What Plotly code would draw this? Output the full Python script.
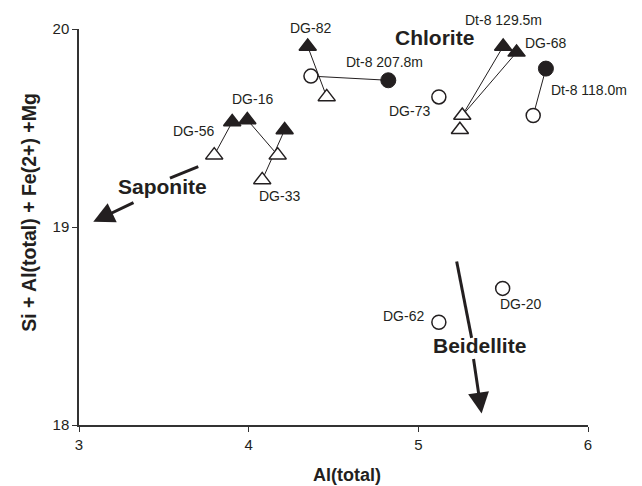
import plotly.graph_objects as go

# ---- data ----
filled_tri_x = [3.903, 3.992, 4.212, 4.348, 5.500, 5.579]
filled_tri_y = [19.530, 19.541, 19.490, 19.912, 19.912, 19.882]

open_tri_x = [3.797, 4.171, 4.080, 4.460, 5.259, 5.245]
open_tri_y = [19.363, 19.363, 19.238, 19.657, 19.563, 19.491]

filled_circ_x = [4.823, 5.752]
filled_circ_y = [19.741, 19.800]

open_circ_x = [4.367, 5.121, 5.677, 5.497, 5.121]
open_circ_y = [19.762, 19.657, 19.563, 18.690, 18.519]

# connecting segments (start x, start y, end x, end y)
seg_x0 = [3.797, 3.992, 4.212, 4.348, 4.367, 5.500, 5.579, 5.752]
seg_y0 = [19.363, 19.541, 19.490, 19.912, 19.762, 19.912, 19.882, 19.800]
seg_x1 = [3.903, 4.171, 4.080, 4.460, 4.823, 5.259, 5.259, 5.677]
seg_y1 = [19.530, 19.363, 19.238, 19.657, 19.741, 19.563, 19.563, 19.563]

# sample labels (centre positions)
label_text = ["DG-82", "DG-16", "DG-56", "DG-33", "Dt-8 207.8m",
              "DG-68", "DG-73", "DG-20", "DG-62"]
label_x = [4.367, 4.024, 3.674, 4.179, 4.799, 5.752, 4.950, 5.603, 4.911]
label_y = [19.990, 19.629, 19.471, 19.142, 19.817, 19.912, 19.571, 18.594, 18.535]

# labels that sit on/over the plot frame (left edge x, centre y)
edge_label_text = ["Dt-8 129.5m", "Dt-8 118.0m"]
edge_label_x = [5.265, 5.770]
edge_label_y = [20.028, 19.679]

# trend arrows: tail -> gap start, gap end -> tip (gap holds the name)
trend_name = ["Saponite", "Beidellite"]
trend_tail_x = [3.703, 5.226]
trend_tail_y = [19.305, 18.826]
trend_gap0_x = [3.536, 5.314]
trend_gap0_y = [19.247, 18.440]
trend_gap1_x = [3.330, 5.324]
trend_gap1_y = [19.127, 18.341]
trend_tip_x = [3.084, 5.373]
trend_tip_y = [19.026, 18.058]
trend_label_x = [3.493, 5.363]
trend_label_y = [19.186, 18.382]

region_name = ["Chlorite"]
region_x = [5.094]
region_y = [19.937]

x_ticks = [3, 4, 5, 6]
y_ticks = [18, 19, 20]
x_range = [3, 6]
y_range = [18, 20]
x_title = "Al(total)"
y_title = "Si + Al(total) + Fe(2+) +Mg"

FONT = "Liberation Sans, Arial, sans-serif"
INK = "#231f20"

fig = go.Figure()

# segments
for x0, y0, x1, y1 in zip(seg_x0, seg_y0, seg_x1, seg_y1):
    fig.add_trace(go.Scatter(x=[x0, x1], y=[y0, y1], mode="lines",
                             line=dict(color=INK, width=1),
                             showlegend=False, hoverinfo="skip", cliponaxis=False))

# arrow shafts (tail part)
for x0, y0, x1, y1 in zip(trend_tail_x, trend_tail_y, trend_gap0_x, trend_gap0_y):
    fig.add_trace(go.Scatter(x=[x0, x1], y=[y0, y1], mode="lines",
                             line=dict(color=INK, width=3),
                             showlegend=False, hoverinfo="skip", cliponaxis=False))

# markers
fig.add_trace(go.Scatter(x=open_tri_x, y=open_tri_y, mode="markers",
                         marker=dict(symbol="triangle-up", size=15, color="white",
                                     line=dict(color=INK, width=1.5)),
                         showlegend=False, cliponaxis=False))
fig.add_trace(go.Scatter(x=filled_tri_x, y=filled_tri_y, mode="markers",
                         marker=dict(symbol="triangle-up", size=15, color=INK,
                                     line=dict(color=INK, width=1.5)),
                         showlegend=False, cliponaxis=False))
fig.add_trace(go.Scatter(x=open_circ_x, y=open_circ_y, mode="markers",
                         marker=dict(symbol="circle", size=14, color="white",
                                     line=dict(color=INK, width=1.5)),
                         showlegend=False, cliponaxis=False))
fig.add_trace(go.Scatter(x=filled_circ_x, y=filled_circ_y, mode="markers",
                         marker=dict(symbol="circle", size=15, color=INK,
                                     line=dict(color=INK, width=1)),
                         showlegend=False, cliponaxis=False))

annotations = []
# arrow heads (head part of the shaft)
for tx, ty, hx, hy in zip(trend_gap1_x, trend_gap1_y, trend_tip_x, trend_tip_y):
    annotations.append(dict(x=hx, y=hy, ax=tx, ay=ty, xref="x", yref="y",
                            axref="x", ayref="y", text="", showarrow=True,
                            arrowhead=2, arrowsize=1.4, arrowwidth=3,
                            arrowcolor=INK, standoff=0, startstandoff=0))
# end-member names
for name, lx, ly in zip(trend_name + region_name, trend_label_x + region_x,
                        trend_label_y + region_y):
    annotations.append(dict(x=lx, y=ly, xref="x", yref="y", text="<b>%s</b>" % name,
                            showarrow=False, xanchor="center", yanchor="middle", yshift=4,
                            font=dict(family=FONT, size=21, color=INK)))
# sample labels
for t, lx, ly in zip(label_text, label_x, label_y):
    annotations.append(dict(x=lx, y=ly, xref="x", yref="y", text=t, showarrow=False,
                            xanchor="center", yanchor="middle", yshift=3,
                            font=dict(family=FONT, size=14, color=INK)))
# labels on the frame: positioned in paper fractions of the axis ranges
for t, lx, ly in zip(edge_label_text, edge_label_x, edge_label_y):
    px = (lx - x_range[0]) / (x_range[1] - x_range[0])
    py = (ly - y_range[0]) / (y_range[1] - y_range[0])
    annotations.append(dict(x=px, y=py, xref="paper", yref="paper", text=t,
                            showarrow=False, xanchor="left", yanchor="middle", yshift=3,
                            font=dict(family=FONT, size=14, color=INK)))
# axis titles
annotations.append(dict(x=0.5265, y=-0.132, xref="paper", yref="paper",
                        text="<b>%s</b>" % x_title, showarrow=False,
                        xanchor="center", yanchor="middle", yshift=2,
                        font=dict(family=FONT, size=18, color=INK)))
annotations.append(dict(x=-0.098, y=0.536, xref="paper", yref="paper",
                        text="<b>%s</b>" % y_title, showarrow=False, textangle=-90,
                        xanchor="center", yanchor="middle",
                        font=dict(family=FONT, size=19.5, color=INK)))

fig.update_layout(
    width=642, height=486,
    margin=dict(l=71, r=62, t=16, b=69),
    plot_bgcolor="white", paper_bgcolor="white",
    annotations=annotations,
    font=dict(family=FONT, size=15, color=INK),
    xaxis=dict(range=x_range, tickvals=x_ticks, showgrid=False, zeroline=False,
               showline=True, linecolor="#333333", linewidth=1.5,
               ticks="outside", ticklen=5, tickcolor="#333333", tickwidth=1,
               tickfont=dict(family=FONT, size=15, color=INK)),
    yaxis=dict(range=y_range, tickvals=y_ticks, showgrid=False, zeroline=False,
               showline=True, linecolor="#333333", linewidth=1.5,
               ticks="outside", ticklen=5, tickcolor="#333333", tickwidth=1,
               tickfont=dict(family=FONT, size=15, color=INK)),
)

fig.write_html("out.html")
